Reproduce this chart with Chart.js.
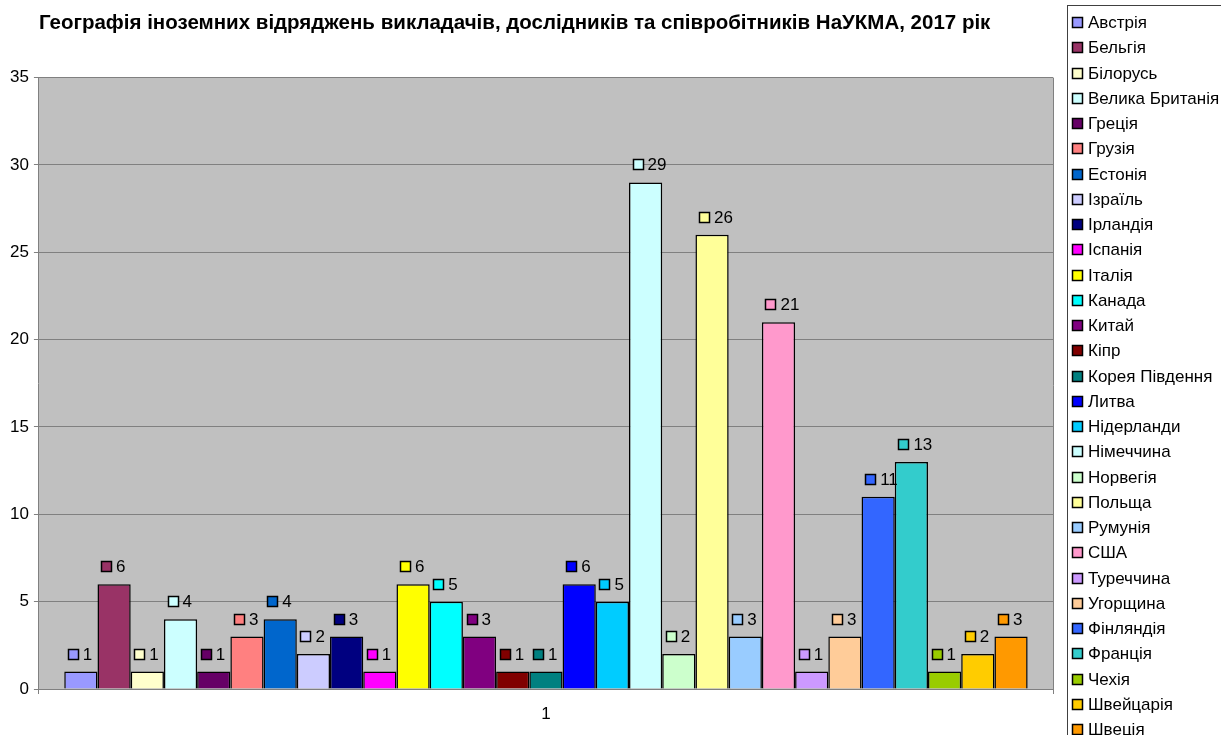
<!DOCTYPE html>
<html lang="uk">
<head>
    <meta charset="UTF-8">
    <title>Географія іноземних відряджень НаУКМА, 2017</title>
    <style>
        body {
            margin: 0;
            padding: 0;
            background: #fff;
        }
        canvas {
            display: block;
        }
    </style>
</head>
<body>
    <canvas id="tripChart" width="1221" height="735"></canvas>

    <script src="https://cdn.jsdelivr.net/npm/chart.js"></script>
    <script>
        // Data
        const categories = ['1'];
        const countries = [
            'Австрія', 'Бельгія', 'Білорусь', 'Велика Британія', 'Греція', 'Грузія',
            'Естонія', 'Ізраїль', 'Ірландія', 'Іспанія', 'Італія', 'Канада', 'Китай',
            'Кіпр', 'Корея Південня', 'Литва', 'Нідерланди', 'Німеччина', 'Норвегія',
            'Польща', 'Румунія', 'США', 'Туреччина', 'Угорщина', 'Фінляндія',
            'Франція', 'Чехія', 'Швейцарія', 'Швеція'
        ];
        const trips = [1, 6, 1, 4, 1, 3, 4, 2, 3, 1, 6, 5, 3, 1, 1, 6, 5, 29, 2, 26, 3, 21, 1, 3, 11, 13, 1, 2, 3];
        const colors = [
            '#9999FF', '#993366', '#FFFFCC', '#CCFFFF', '#660066', '#FF8080',
            '#0066CC', '#CCCCFF', '#000080', '#FF00FF', '#FFFF00', '#00FFFF', '#800080',
            '#800000', '#008080', '#0000FF', '#00CCFF', '#CCFFFF', '#CCFFCC',
            '#FFFF99', '#99CCFF', '#FF99CC', '#CC99FF', '#FFCC99', '#3366FF',
            '#33CCCC', '#99CC00', '#FFCC00', '#FF9900'
        ];
        const yTicks = [0, 5, 10, 15, 20, 25, 30, 35];

        const FONT = 'Arial, "Liberation Sans", sans-serif';

        const datasets = countries.map((name, i) => ({
            label: name,
            data: [trips[i]],
            backgroundColor: colors[i],
            borderColor: '#000',
            borderWidth: 1.5,
            categoryPercentage: 0.95,
            barPercentage: 1
        }));

        // grey plot area + border on the right
        const plotBackground = {
            id: 'plotBackground',
            beforeDraw(chart) {
                const { ctx, chartArea: a } = chart;
                ctx.save();
                ctx.fillStyle = '#C0C0C0';
                ctx.fillRect(a.left, a.top, a.right - a.left, a.bottom - a.top);
                ctx.strokeStyle = '#808080';
                ctx.lineWidth = 1;
                ctx.beginPath();
                ctx.moveTo(a.right + 0.5, a.top);
                ctx.lineTo(a.right + 0.5, a.bottom + 5);
                ctx.stroke();
                ctx.restore();
            }
        };

        // little key square + value above every bar
        const valueLabels = {
            id: 'valueLabels',
            afterDatasetsDraw(chart) {
                const ctx = chart.ctx;
                ctx.save();
                ctx.font = '17px ' + FONT;
                ctx.textBaseline = 'middle';
                ctx.textAlign = 'left';
                chart.data.datasets.forEach((ds, i) => {
                    const bar = chart.getDatasetMeta(i).data[0];
                    const cy = Math.round(bar.y - 18);
                    const sx = Math.round(bar.x - 13);
                    ctx.fillStyle = ds.backgroundColor;
                    ctx.fillRect(sx, cy - 5, 11, 11);
                    ctx.strokeStyle = '#000';
                    ctx.lineWidth = 1.5;
                    ctx.strokeRect(sx + 0.5, cy - 4.5, 10, 10);
                    ctx.fillStyle = '#000';
                    ctx.fillText(String(ds.data[0]), bar.x + 2, cy + 1);
                });
                ctx.restore();
            }
        };

        // legend box on the right
        const sideLegend = {
            id: 'sideLegend',
            afterDraw(chart) {
                const ctx = chart.ctx;
                const left = 1067, top = 5, rowH = 25.25;
                ctx.save();
                ctx.strokeStyle = '#404040';
                ctx.lineWidth = 1;
                ctx.strokeRect(left + 0.5, top + 0.5, 170, 760);
                ctx.font = '17px ' + FONT;
                ctx.textBaseline = 'middle';
                chart.data.datasets.forEach((ds, i) => {
                    const cy = Math.round(top + 17 + i * rowH);
                    ctx.fillStyle = ds.backgroundColor;
                    ctx.fillRect(left + 5, cy - 5, 11, 11);
                    ctx.strokeStyle = '#000';
                    ctx.lineWidth = 1.5;
                    ctx.strokeRect(left + 5.5, cy - 4.5, 10, 10);
                    ctx.fillStyle = '#000';
                    ctx.fillText(ds.label, left + 21, cy + 1);
                });
                ctx.restore();
            }
        };

        const ctx = document.getElementById('tripChart').getContext('2d');
        const tripChart = new Chart(ctx, {
            type: 'bar',
            data: {
                labels: categories,
                datasets: datasets
            },
            plugins: [plotBackground, valueLabels, sideLegend],
            options: {
                responsive: false,
                animation: false,
                devicePixelRatio: 1,
                layout: {
                    padding: { left: 5, right: 168, top: 0, bottom: 0 }
                },
                plugins: {
                    legend: { display: false },
                    tooltip: { enabled: false },
                    title: {
                        display: true,
                        text: 'Географія іноземних відряджень викладачів, дослідників та співробітників НаУКМА, 2017 рік',
                        fullSize: false,
                        align: 'start',
                        color: '#000',
                        font: { family: FONT, size: 20.5, weight: 'bold' },
                        padding: { top: 11, bottom: 42 }
                    }
                },
                scales: {
                    x: {
                        offset: true,
                        grid: { display: true, drawOnChartArea: false, tickLength: 5, color: '#808080', offset: true },
                        border: { color: '#808080' },
                        ticks: {
                            color: '#000',
                            padding: 12,
                            font: { family: FONT, size: 17, lineHeight: 1 }
                        }
                    },
                    y: {
                        min: 0,
                        max: 35,
                        afterBuildTicks(scale) {
                            scale.ticks = yTicks.map(v => ({ value: v }));
                        },
                        grid: { color: '#808080', tickLength: 5 },
                        border: { color: '#808080' },
                        ticks: {
                            color: '#000',
                            padding: 5,
                            font: { family: FONT, size: 17 }
                        }
                    }
                }
            }
        });
    </script>
</body>
</html>
